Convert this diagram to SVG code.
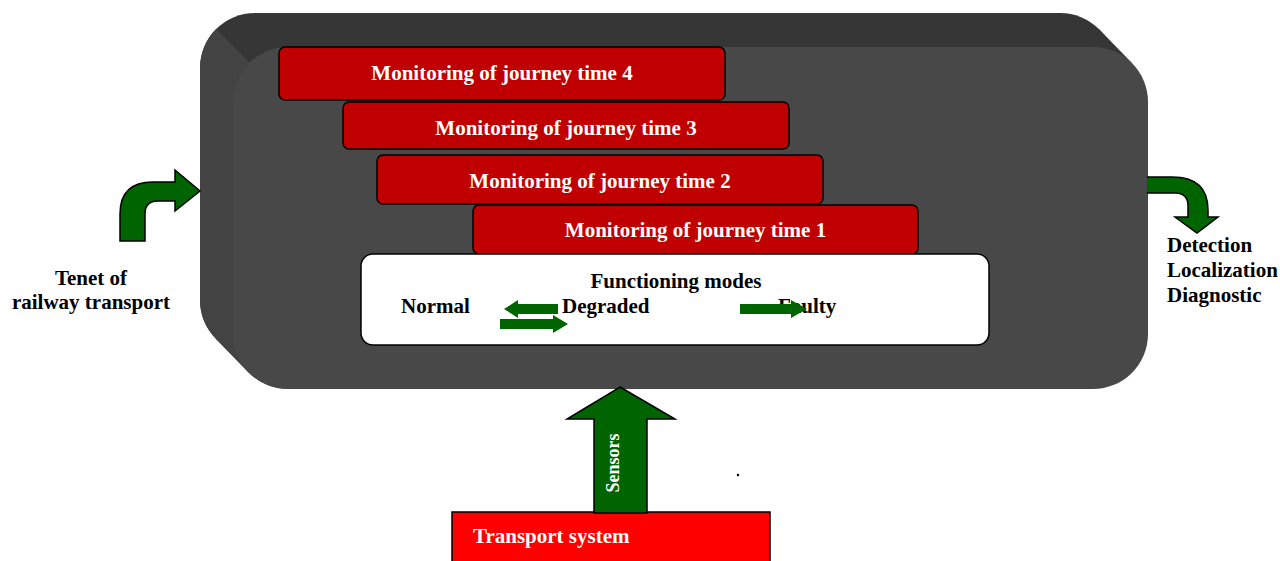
<svg xmlns="http://www.w3.org/2000/svg" xmlns:xlink="http://www.w3.org/1999/xlink" width="1280" height="561" viewBox="0 0 1280 561">
<style>
.t{font-family:"Liberation Serif","Times New Roman",serif;font-weight:bold;font-size:21px}
.w{fill:#ffffff}
.k{fill:#000000}
.red{fill:#c00000;stroke:#000;stroke-width:1.5}
.garrow{fill:#006400;stroke:#000;stroke-width:1.5;stroke-linejoin:miter}
.gflat{fill:#006400}
</style>
<defs>
<rect id="back" x="200" y="13" width="915" height="342" rx="55" ry="55"/>
<rect id="front" x="233" y="47" width="915" height="342" rx="55" ry="55"/>
<polygon id="p1" points="1060,68 1098.9,29.1 1131.9,63.1 1093,102"/>
<polygon id="p2" points="255,300 216.1,338.9 249.1,372.9 288,334"/>
<clipPath id="sil">
<use xlink:href="#back"/><use xlink:href="#front"/><use xlink:href="#p1"/><use xlink:href="#p2"/>
</clipPath>
</defs>
<rect width="1280" height="561" fill="#ffffff"/>
<g id="block">
<g fill="#363636"><use xlink:href="#back"/><use xlink:href="#p1"/><use xlink:href="#p2"/></g>
<polygon points="150,-37 300,113 300,561 150,561" fill="#434343" clip-path="url(#sil)"/>
<use xlink:href="#front" fill="#484848"/>
</g>
<g id="box4"><rect class="red" x="279" y="47" width="446" height="53" rx="6"/><text class="t w" x="502" y="80" text-anchor="middle">Monitoring of journey time 4</text></g>
<g id="box3"><rect class="red" x="343" y="102" width="446" height="47" rx="6"/><text class="t w" x="566" y="135" text-anchor="middle">Monitoring of journey time 3</text></g>
<g id="box2"><rect class="red" x="377" y="155" width="446" height="49" rx="6"/><text class="t w" x="600" y="188" text-anchor="middle">Monitoring of journey time 2</text></g>
<g id="box1"><rect class="red" x="473" y="205" width="445" height="49" rx="6"/><text class="t w" x="695.5" y="237" text-anchor="middle">Monitoring of journey time 1</text></g>
<g id="modes">
<rect x="361" y="254" width="628" height="91" rx="12" fill="#ffffff" stroke="#000" stroke-width="1.5"/>
<text class="t k" x="676" y="288" text-anchor="middle">Functioning modes</text>
<text class="t k" x="401" y="313">Normal</text>
<text class="t k" x="562" y="313">Degraded</text>
<text class="t k" x="778" y="313">Faulty</text>
<polygon class="gflat" points="558,304 518,304 518,300 504,309 518,318 518,314 558,314"/>
<polygon class="gflat" points="500,319 553,319 553,315 568,324 553,333 553,329 500,329"/>
<polygon class="gflat" points="740,304 791,304 791,300 807,309 791,318 791,314 740,314"/>
</g>
<g id="tenet"><text class="t k" x="91" y="285" text-anchor="middle">Tenet of</text><text class="t k" x="91" y="309" text-anchor="middle">railway transport</text></g>
<g id="outputs"><text class="t k" x="1167" y="252">Detection</text><text class="t k" x="1167" y="277">Localization</text><text class="t k" x="1167" y="302">Diagnostic</text></g>
<g id="transport"><rect x="452" y="512" width="318" height="60" fill="#ff0000" stroke="#000" stroke-width="1.5"/><text class="t w" x="473" y="543">Transport system</text></g>
<g id="connectors">
<path class="garrow" d="M120,241 L120,214 Q120,182 153,182 L175,182 L175,170 L200,191 L175,211 L175,201 L158,201 Q145,201 145,214 L145,241 Z"/>
<path class="garrow" d="M1147,177 L1172,177 Q1208,177 1208,210 L1208,217 L1218,217 L1197,233 L1175,217 L1188,217 L1188,206 Q1188,193 1175,193 L1147,193"/>
<path class="garrow" d="M620,387 L675,419 L647,419 L647,513 L594,513 L594,419 L567,419 Z"/>
<text class="t w" style="font-size:18px" transform="translate(619,463) rotate(-90)" text-anchor="middle">Sensors</text>
</g>
<circle cx="738" cy="475" r="1.2" fill="#000"/>
</svg>
